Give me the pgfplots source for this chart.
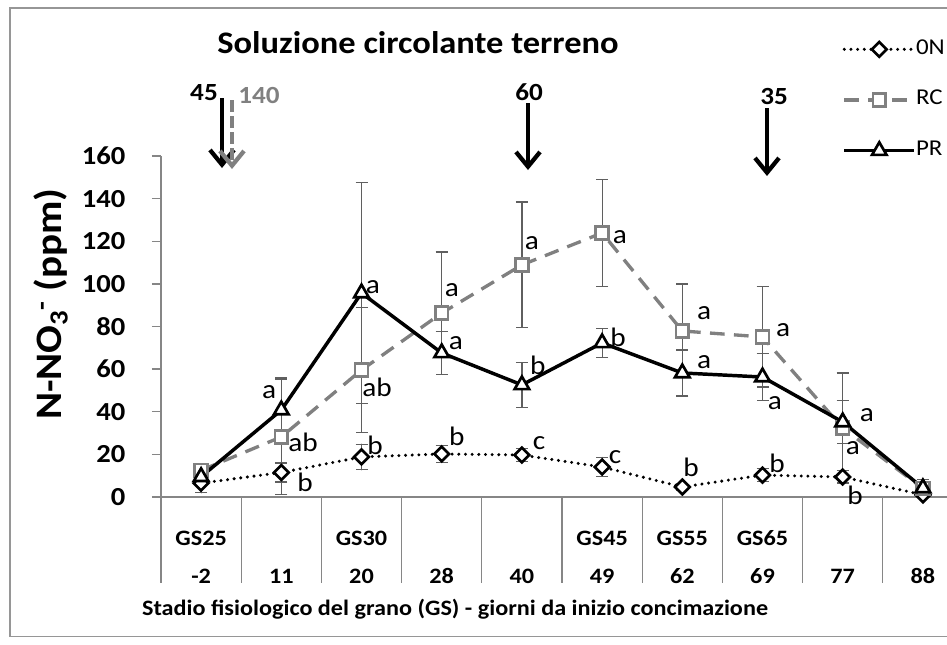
\documentclass[border=0pt]{standalone}
\usepackage{pgfplots}
\pgfplotsset{compat=1.18}
\usepackage{pgfplotstable}
\usepackage{fontspec}
\setmainfont{Carlito}[FakeStretch=1.1]
\usetikzlibrary{arrows.meta}
\definecolor{rcgray}{RGB}{128,128,128}
\definecolor{axgray}{RGB}{134,134,134}
\definecolor{errgray}{RGB}{95,95,95}
\definecolor{bordergray}{RGB}{150,150,150}

% x = category index (0..9), y = N-NO3 (ppm), e = error (+/-)
\pgfplotstableread{
x y e
0 6.5 4.5
1 11.5 4.5
2 18.8 6
3 20.2 4
4 19.7 3
5 14.1 4.4
6 4.7 1.5
7 10.3 3
8 9.4 3
9 1.0 1
}\tabON
\pgfplotstableread{
x y e
0 12.5 2
1 28.2 27
2 59.6 29.3
3 86.3 28.7
4 108.9 29.5
5 123.9 25.2
6 77.9 22
7 75.1 23.5
8 32.4 25.8
9 4.0 2
}\tabRC
\pgfplotstableread{
x y e
0 9.5 3
1 40.8 15
2 95.7 51.7
3 67.6 10
4 52.6 10.5
5 72.3 6.8
6 58.2 10.8
7 56.3 11
8 35.2 10
9 4.2 4
}\tabPR

\newcommand{\fs}[1]{\fontsize{#1}{#1}\selectfont}
\newcommand{\tl}[2]{\strut#1\\\strut#2}

\begin{document}
\begin{tikzpicture}
% chart border (right side lies beyond the cropped edge)
\draw[bordergray, line width=1.1pt] (800pt,-6pt) -- (7.5pt,-6pt) -- (7.5pt,-477.5pt) -- (800pt,-477.5pt);
\begin{axis}[
  at={(120.75pt,-372.75pt)}, anchor=south west,
  scale only axis, width=601.5pt, height=255.75pt,
  xmin=-0.5, xmax=9.5, ymin=0, ymax=160,
  clip=false,
  axis x line*=bottom, axis y line*=left,
  axis line style={axgray, line width=1pt, -},
  tick align=outside,
  major tick length=6.75pt,
  ytick={0,20,...,160},
  y tick style={axgray, line width=1pt},
  x tick style={draw=none},
  /pgf/number format/assume math mode=true,
  yticklabel style={font=\fs{19.5}\bfseries, anchor=east, xshift=-16.5pt},
  xtick={0,...,9},
  xticklabels={\tl{GS25}{-2},\tl{}{11},\tl{GS30}{20},\tl{}{28},\tl{}{40},\tl{GS45}{49},\tl{GS55}{62},\tl{GS65}{69},\tl{}{77},\tl{}{88}},
  xticklabel style={font=\fontsize{16.5}{28.5}\selectfont\bfseries, align=center, anchor=north, yshift=-6pt},
  legend style={at={(rel axis cs:0.8495,1.339)}, anchor=north west, draw=none, fill=none,
     font=\fs{17}, inner sep=0pt, row sep=25pt,
     nodes={text height=10pt, text depth=3pt, inner sep=0pt},
     /tikz/every even column/.append style={column sep=4.5pt}},
  legend cell align=left,
  legend image code/.code={\draw[mark repeat=2,mark phase=2,#1] plot coordinates {(0pt,0pt) (26.25pt,0pt) (52.5pt,0pt)};},
  error bars/y dir=both, error bars/y explicit,
  error bars/error bar style={errgray, line width=0.9pt, solid},
  error bars/error mark options={errgray, rotate=90, mark size=4.5pt, line width=0.9pt, solid},
]
% category separators
\pgfplotsinvokeforeach{-0.5,0.5,1.5,2.5,3.5,4.5,5.5,6.5,7.5,8.5,9.5}{
  \draw[axgray, line width=1pt] (axis cs:#1,0) -- (axis cs:#1,-40.4);
}
\addplot[black, line width=2.5pt, line cap=round, dash pattern=on 0pt off 5pt,
  mark=square*, mark size=3.9pt, mark options={rotate=45, solid, fill=white, draw=black, line width=2pt}]
  table[x=x, y=y, y error=e] {\tabON};
\addlegendentry{0N}
\addplot[rcgray, line width=2.5pt, dash pattern=on 11pt off 7pt,
  mark=square*, mark size=4.8pt, mark options={solid, fill=white, draw=rcgray, line width=2pt}]
  table[x=x, y=y, y error=e] {\tabRC};
\addlegendentry{RC}
\addplot[black, line width=2.6pt,
  mark=triangle*, mark size=6.3pt, mark options={solid, fill=white, draw=black, line width=2pt}]
  table[x=x, y=y, y error=e] {\tabPR};
\addlegendentry{PR}

% significance letters
\begin{scope}[every node/.style={font=\fs{20}, inner sep=0pt}]
\node at (axis cs:0.847,49.3) {a};
\node at (axis cs:1.271,25.8) {ab};
\node at (axis cs:1.296,7.0) {b};
\node at (axis cs:2.143,98.5) {a};
\node at (axis cs:2.193,51.6) {ab};
\node at (axis cs:2.168,24.4) {b};
\node at (axis cs:3.128,97.1) {a};
\node at (axis cs:3.178,72.3) {a};
\node at (axis cs:3.19,28.6) {b};
\node at (axis cs:4.126,119.2) {a};
\node at (axis cs:4.20,61.9) {b};
\node at (axis cs:4.213,25.3) {c};
\node at (axis cs:5.223,122.0) {a};
\node at (axis cs:5.198,75.1) {b};
\node at (axis cs:5.161,18.8) {c};
\node at (axis cs:6.271,86.3) {a};
\node at (axis cs:6.271,63.4) {a};
\node at (axis cs:6.108,14.1) {b};
\node at (axis cs:7.256,78.4) {a};
\node at (axis cs:7.156,44.1) {a};
\node at (axis cs:7.181,16.0) {b};
\node at (axis cs:8.303,38.5) {a};
\node at (axis cs:8.128,23.0) {a};
\node at (axis cs:8.153,0.9) {b};
\end{scope}
\end{axis}

\begin{scope}[x=0.75pt, y=-0.75pt]
% title and axis titles
\node[font=\fs{23.5}\bfseries] at (418,43) {Soluzione circolante terreno};
\node[font=\fs{28}\bfseries, rotate=90] at (51,304) {N-NO\textsubscript{3}\textsuperscript{-} (ppm)};
\node[font=\fs{16.5}\bfseries] at (455,609) {Stadio fisiologico del grano (GS) - giorni da inizio concimazione};
% fertilisation arrows
\tikzset{fert/.style={line width=3.2pt, -{Straight Barb[length=11pt, width=18pt, line width=3.2pt]}}}
\draw[black, fert] (222,98) -- (222,168);
\draw[rcgray, fert, dash pattern=on 9pt off 3pt] (232,100) -- (232,169);
\draw[black, fert] (528,103) -- (528,170);
\draw[black, fert] (767,108) -- (767,176);
\node[font=\fs{18.5}\bfseries] at (204,93) {45};
\node[font=\fs{18.5}\bfseries, text=rcgray] at (259,95) {140};
\node[font=\fs{18.5}\bfseries] at (529,92) {60};
\node[font=\fs{18.5}\bfseries] at (774,96) {35};
\end{scope}
\pgfresetboundingbox
\path (0pt,0pt) rectangle (710.25pt,-483pt);
\end{tikzpicture}
\end{document}
